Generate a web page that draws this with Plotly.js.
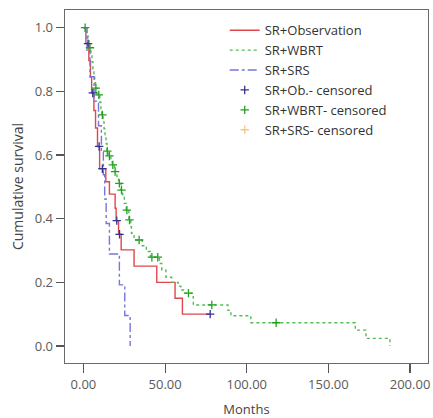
<!DOCTYPE html>
<html>
<head>
<meta charset="utf-8">
<script src="https://cdn.plot.ly/plotly-3.0.1.min.js"></script>
<style>html,body{margin:0;padding:0;background:#fff;}#chart{width:433px;height:418px;}</style>
</head>
<body>
<div id="chart"></div>
<script>
// SR+Observation (step curve)
const obsTime = [0, 1.5, 3.3, 4.3, 5.0, 6.4, 7.4, 8.6, 9.9, 13.7, 15.9, 19.4, 20.0, 21.5, 23.1, 31.0, 44.9, 56.1, 60.6, 77.6];
const obsSurv = [1.0, 0.95, 0.897, 0.845, 0.795, 0.740, 0.685, 0.627, 0.557, 0.516, 0.477, 0.433, 0.394, 0.351, 0.302, 0.251, 0.200, 0.150, 0.100, 0.100];
// SR+Ob. censored
const obsCensTime = [2.8, 5.7, 9.6, 11.6, 20.4, 22.1, 77.6];
const obsCensSurv = [0.95, 0.795, 0.627, 0.557, 0.394, 0.351, 0.100];

// SR+WBRT (step curve)
const wbrtTime = [0, 2.0, 2.8, 3.5, 4.6, 5.2, 5.8, 6.4, 6.9, 7.4, 8.4, 10.0, 10.7, 11.2, 12.0, 12.6, 13.2, 13.8, 14.4, 15.6, 16.8, 17.6, 19.0, 20.5, 21.5, 23.0, 24.0, 25.0, 26.2, 27.8, 29.0, 29.4, 31.0, 36.0, 38.5, 41.0, 46.5, 48.0, 50.5, 54.0, 58.0, 59.6, 62.0, 66.5, 67.3, 88.5, 90.3, 102.5, 166.5, 173.0, 187.7];
const wbrtSurv = [1.0, 0.979, 0.958, 0.937, 0.915, 0.893, 0.871, 0.849, 0.827, 0.810, 0.789, 0.766, 0.745, 0.726, 0.704, 0.682, 0.659, 0.636, 0.612, 0.597, 0.582, 0.569, 0.548, 0.530, 0.511, 0.490, 0.469, 0.448, 0.427, 0.396, 0.375, 0.354, 0.333, 0.315, 0.297, 0.279, 0.259, 0.239, 0.216, 0.200, 0.188, 0.176, 0.166, 0.155, 0.129, 0.112, 0.095, 0.073, 0.050, 0.024, 0.0];
// SR+WBRT censored
const wbrtCensTime = [1.0, 4.0, 7.6, 9.4, 11.6, 14.6, 15.9, 18.0, 19.4, 22.0, 23.3, 26.6, 28.2, 34.1, 41.9, 45.5, 64.3, 78.6, 118.0];
const wbrtCensSurv = [1.0, 0.937, 0.810, 0.789, 0.726, 0.612, 0.597, 0.569, 0.548, 0.511, 0.490, 0.427, 0.396, 0.333, 0.279, 0.279, 0.166, 0.129, 0.073];

// SR+SRS (step curve)
const srsTime = [0, 2.2, 4.0, 6.5, 9.2, 11.0, 12.2, 13.0, 13.9, 15.9, 22.0, 25.3, 28.6];
const srsSurv = [1.0, 0.923, 0.846, 0.769, 0.692, 0.615, 0.538, 0.462, 0.385, 0.289, 0.192, 0.096, 0.0];
// SR+SRS censored (none visible in the plot)
const srsCensTime = [null];
const srsCensSurv = [null];

const xTicks = [0, 50, 100, 150, 200];
const yTicks = [0, 0.2, 0.4, 0.6, 0.8, 1.0];

const FONT = '"Open Sans", "Noto Sans", sans-serif';

function censMarker(color) {
  return {symbol: 'cross-thin-open', size: 6, color: color, line: {width: 1.3, color: color}};
}

const traces = [
  {x: obsTime, y: obsSurv, name: 'SR+Observation', mode: 'lines', line: {shape: 'hv', color: '#e0474c', width: 1.4}},
  {x: wbrtTime, y: wbrtSurv, name: 'SR+WBRT', mode: 'lines', line: {shape: 'hv', color: '#52bd52', width: 1.4, dash: 'dot'}},
  {x: srsTime, y: srsSurv, name: 'SR+SRS', mode: 'lines', line: {shape: 'hv', color: '#7676dc', width: 1.4, dash: 'dashdot'}},
  {x: obsCensTime, y: obsCensSurv, name: 'SR+Ob.- censored', mode: 'markers', marker: censMarker('#33338f')},
  {x: wbrtCensTime, y: wbrtCensSurv, name: 'SR+WBRT- censored', mode: 'markers', marker: censMarker('#22a022')},
  {x: srsCensTime, y: srsCensSurv, name: 'SR+SRS- censored', mode: 'markers', marker: censMarker('#f0c98a')}
];

const layout = {
  width: 433, height: 418,
  margin: {l: 65, r: 5, t: 10, b: 55},
  paper_bgcolor: '#fff', plot_bgcolor: '#fff',
  font: {family: FONT, color: '#5a5a5a', size: 13},
  showlegend: true,
  legend: {x: 0.44, y: 0.985, xanchor: 'left', yanchor: 'top', bgcolor: 'rgba(0,0,0,0)',
           font: {family: FONT, size: 13, color: '#333'}, tracegroupgap: 0, itemwidth: 30},
  xaxis: {
    range: [-11.3, 211], tickvals: xTicks, tickformat: '.2f',
    ticks: 'outside', ticklen: 9, tickcolor: '#555', tickwidth: 1.2,
    showline: true, mirror: true, linecolor: '#6a6a6a', linewidth: 1.4,
    showgrid: false, zeroline: false,
    tickfont: {family: FONT, size: 13, color: '#5a5a5a'},
    title: {text: 'Months', font: {family: FONT, size: 13, color: '#444'}, standoff: 13}
  },
  yaxis: {
    range: [-0.0534, 1.0556], tickvals: yTicks, tickformat: '.1f',
    ticks: 'outside', ticklen: 8, tickcolor: '#555', tickwidth: 1.2,
    showline: true, mirror: true, linecolor: '#6a6a6a', linewidth: 1.4,
    showgrid: false, zeroline: false,
    tickfont: {family: FONT, size: 13, color: '#5a5a5a'},
    title: {text: 'Cumulative survival', font: {family: FONT, size: 14, color: '#444'}, standoff: 8}
  }
};

Plotly.newPlot('chart', traces, layout, {displayModeBar: false, staticPlot: true});
</script>
</body>
</html>
